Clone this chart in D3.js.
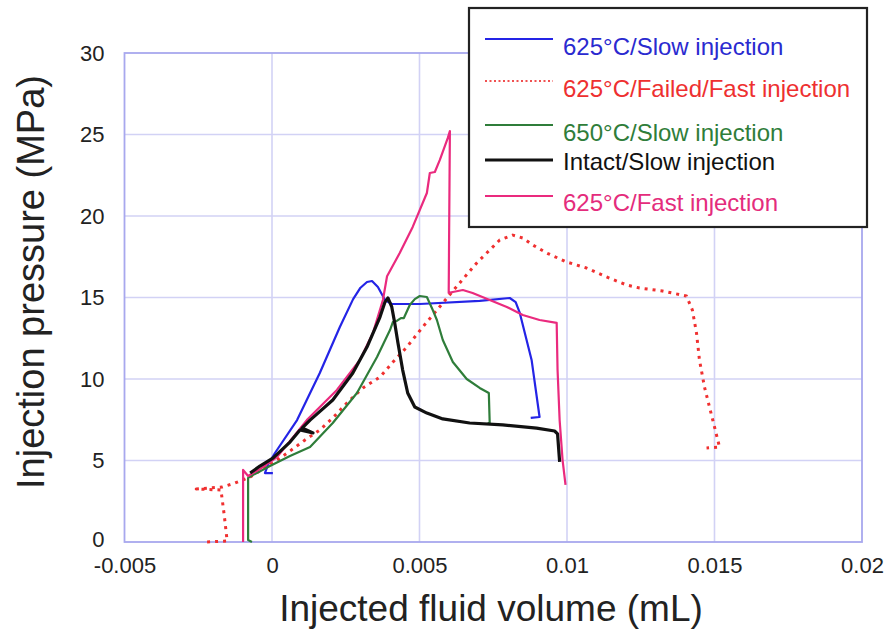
<!DOCTYPE html>
<html>
<head>
<meta charset="utf-8">
<script src="https://cdn.jsdelivr.net/npm/d3@7"></script>
<style>
  html, body { margin: 0; padding: 0; background: #ffffff; }
  svg { display: block; }
  text { font-family: "Liberation Sans", Arial, sans-serif; }
</style>
</head>
<body>
<div id="chart"></div>
<script>
// ---------------- DATA ----------------
const xTicks = [-0.005, 0, 0.005, 0.01, 0.015, 0.02];
const xTickLabels = ["-0.005", "0", "0.005", "0.01", "0.015", "0.02"];
const yTicks = [0, 5, 10, 15, 20, 25, 30];
const yTickLabels = ["0", "5", "10", "15", "20", "25", "30"];

const seriesNames = [
  "625°C/Slow injection",
  "625°C/Failed/Fast injection",
  "650°C/Slow injection",
  "Intact/Slow injection",
  "625°C/Fast injection"
];

// 625°C / Slow injection  [volume mL, pressure MPa]
const slow625 = [
  [0.00003, 4.23], [-0.00024, 4.23], [-0.00014, 4.72], [0.0001, 5.46], [0.00085, 7.48],
  [0.00162, 10.37], [0.0023, 13.19], [0.00275, 14.9], [0.00300, 15.6], [0.00322, 15.95],
  [0.00339, 16.01], [0.00359, 15.64], [0.00383, 14.85], [0.00406, 14.6], [0.00501, 14.6],
  [0.00704, 14.79], [0.00806, 14.97], [0.00826, 14.72], [0.0084, 14.05], [0.00863, 12.39],
  [0.0088, 11.17], [0.00907, 7.67], [0.00877, 7.61]
];

// 625°C / Failed / Fast injection
const failed625 = [
  [-0.0022, 0.0], [-0.00152, 0.06], [-0.00162, 1.66], [-0.00173, 3.19], [-0.00257, 3.25],
  [-0.00169, 3.37], [-0.00125, 3.62], [-0.00074, 3.99], [0.00003, 4.85], [0.00061, 5.58],
  [0.00112, 6.26], [0.00162, 6.87], [0.00206, 7.61], [0.00254, 8.53], [0.00308, 9.45],
  [0.00366, 10.12], [0.0041, 11.04], [0.00457, 11.96], [0.00511, 13.19], [0.00579, 14.66],
  [0.00636, 15.89], [0.00694, 17.12], [0.00738, 17.91], [0.00772, 18.53], [0.00816, 18.83],
  [0.0085, 18.65], [0.00884, 18.22], [0.00931, 17.73], [0.00999, 17.18], [0.01066, 16.81],
  [0.01134, 16.26], [0.01202, 15.77], [0.01246, 15.58], [0.01324, 15.4], [0.01405, 15.09],
  [0.01425, 14.23], [0.01439, 12.82], [0.01449, 11.17], [0.01466, 9.51], [0.01483, 8.28],
  [0.015, 7.06], [0.01517, 5.83], [0.01473, 5.77]
];

// 650°C / Slow injection
const slow650 = [
  [-0.00068, 0.0], [-0.00081, 0.12], [-0.00081, 3.93], [-0.00071, 4.05], [-0.00007, 4.66],
  [0.00061, 5.28], [0.00129, 5.83], [0.00206, 7.3], [0.00288, 9.14], [0.00356, 11.35],
  [0.004, 13.0], [0.0041, 13.5], [0.00423, 13.56], [0.00437, 13.74], [0.00447, 13.74],
  [0.00467, 14.54], [0.00484, 14.9], [0.00501, 15.09], [0.00525, 15.03], [0.00545, 14.23],
  [0.00559, 13.62], [0.00579, 12.39], [0.00613, 11.04], [0.0066, 10.0], [0.00704, 9.45],
  [0.00735, 9.14], [0.00738, 7.3], [0.00731, 7.3]
];

// Intact / Slow injection
const intact = [
  [-0.00074, 4.23], [-0.00041, 4.66], [0.00003, 5.15], [0.00061, 6.13], [0.00095, 6.87],
  [0.00139, 6.69], [0.00102, 6.99], [0.00129, 7.48], [0.00206, 8.71], [0.00274, 10.37],
  [0.00322, 11.96], [0.00366, 13.8], [0.00383, 14.72], [0.00393, 14.97], [0.00406, 14.42],
  [0.00416, 13.44], [0.00427, 12.21], [0.00443, 10.55], [0.0046, 9.14], [0.00484, 8.28],
  [0.00525, 7.91], [0.00579, 7.55], [0.0067, 7.3], [0.00782, 7.18], [0.00897, 6.99],
  [0.00958, 6.81], [0.00968, 6.63], [0.00975, 4.91]
];

// 625°C / Fast injection
const fast625 = [
  [-0.00098, 0.0], [-0.00098, 4.42], [-0.00081, 4.05], [-0.00041, 4.48], [0.00017, 5.21],
  [0.00118, 7.48], [0.0022, 9.33], [0.00298, 11.17], [0.00342, 12.82], [0.00376, 14.85],
  [0.0039, 16.3], [0.00433, 17.73], [0.00477, 19.33], [0.00525, 21.41], [0.00535, 22.64],
  [0.00552, 22.7], [0.00569, 23.44], [0.00596, 24.79], [0.00603, 25.21], [0.00599, 15.28],
  [0.00613, 15.34], [0.00647, 15.46], [0.0068, 15.28], [0.00738, 14.85], [0.00796, 14.42],
  [0.0085, 13.93], [0.00907, 13.62], [0.00965, 13.44], [0.00968, 10.55], [0.00975, 7.48],
  [0.00985, 5.03], [0.00995, 3.5]
];

// ---------------- CHART ----------------
const W = 886, H = 635;
const svg = d3.select("#chart").append("svg").attr("width", W).attr("height", H);

const x = d3.scaleLinear().domain([-0.005, 0.02]).range([124.5, 862]);
const y = d3.scaleLinear().domain([0, 30]).range([542, 53]);

const gridColor = "#d2d2f5";
const frameColor = "#a8a8ee";

// grid
svg.append("g").selectAll("line").data(xTicks.slice(1, -1)).join("line")
  .attr("x1", d => x(d)).attr("x2", d => x(d))
  .attr("y1", y(30)).attr("y2", y(0))
  .attr("stroke", gridColor).attr("stroke-width", 1.6);
svg.append("g").selectAll("line").data(yTicks.slice(1, -1)).join("line")
  .attr("x1", x(-0.005)).attr("x2", x(0.02))
  .attr("y1", d => y(d)).attr("y2", d => y(d))
  .attr("stroke", gridColor).attr("stroke-width", 1.6);

// frame
svg.append("rect")
  .attr("x", x(-0.005)).attr("y", y(30))
  .attr("width", x(0.02) - x(-0.005)).attr("height", y(0) - y(30))
  .attr("fill", "none").attr("stroke", frameColor).attr("stroke-width", 1.8);

// axes (labels only)
const xAxis = d3.axisBottom(x).tickValues(xTicks)
  .tickFormat((d, i) => xTickLabels[i]).tickSize(0).tickPadding(15);
const gx = svg.append("g").attr("transform", `translate(0,${y(0)})`).call(xAxis);
gx.select(".domain").remove();
gx.selectAll("text").attr("font-size", 22).attr("fill", "#222")
  .attr("font-family", "Liberation Sans, Arial, sans-serif");

const yAxis = d3.axisLeft(y).tickValues(yTicks)
  .tickFormat((d, i) => yTickLabels[i]).tickSize(0).tickPadding(20);
const gy = svg.append("g").attr("transform", `translate(${x(-0.005)},0)`).call(yAxis);
gy.select(".domain").remove();
gy.selectAll("text").attr("font-size", 22).attr("fill", "#222")
  .attr("font-family", "Liberation Sans, Arial, sans-serif");
gy.selectAll(".tick").filter(d => d === 0).select("text").attr("dy", "0.22em");

// axis titles
svg.append("text").attr("x", 491).attr("y", 621).attr("text-anchor", "middle")
  .attr("font-size", 37).attr("fill", "#222").text("Injected fluid volume (mL)");
svg.append("text").attr("transform", "translate(44,282) rotate(-90)")
  .attr("text-anchor", "middle").attr("font-size", 38).attr("fill", "#222")
  .text("Injection pressure (MPa)");

// series
const line = d3.line().x(d => x(d[0])).y(d => y(d[1]));
const series = [
  { data: slow625, color: "#2424e6", width: 2.2, dash: null },
  { data: failed625, color: "#f03030", width: 3, dash: "3,5" },
  { data: slow650, color: "#2f7d3a", width: 2.2, dash: null },
  { data: fast625, color: "#ea2a7e", width: 2.2, dash: null },
  { data: intact, color: "#111111", width: 3.2, dash: null }
];
series.forEach(s => {
  svg.append("path").datum(s.data).attr("d", line)
    .attr("fill", "none").attr("stroke", s.color).attr("stroke-width", s.width)
    .attr("stroke-linejoin", "round")
    .attr("stroke-dasharray", s.dash);
});

// legend
const legend = [
  { name: seriesNames[0], color: "#2424e6", text: "#2a2ad0", ly: 39, ty: 55, dash: null, w: 2.2 },
  { name: seriesNames[1], color: "#f05050", text: "#ee3030", ly: 81, ty: 97, dash: "2,2.5", w: 2 },
  { name: seriesNames[2], color: "#2f7d3a", text: "#2f7d3a", ly: 125, ty: 141, dash: null, w: 2.2 },
  { name: seriesNames[3], color: "#111111", text: "#111111", ly: 160, ty: 170, dash: null, w: 3.2 },
  { name: seriesNames[4], color: "#ea2a7e", text: "#e42c7c", ly: 196, ty: 211, dash: null, w: 2.2 }
];
const lg = svg.append("g");
lg.append("rect").attr("x", 469).attr("y", 8).attr("width", 398).attr("height", 219)
  .attr("fill", "#ffffff").attr("stroke", "#222").attr("stroke-width", 2.2);
legend.forEach(l => {
  lg.append("line").attr("x1", 485).attr("x2", 553).attr("y1", l.ly).attr("y2", l.ly)
    .attr("stroke", l.color).attr("stroke-width", l.w).attr("stroke-dasharray", l.dash);
  lg.append("text").attr("x", 563).attr("y", l.ty).attr("font-size", 24)
    .attr("fill", l.text).text(l.name);
});
</script>
</body>
</html>
